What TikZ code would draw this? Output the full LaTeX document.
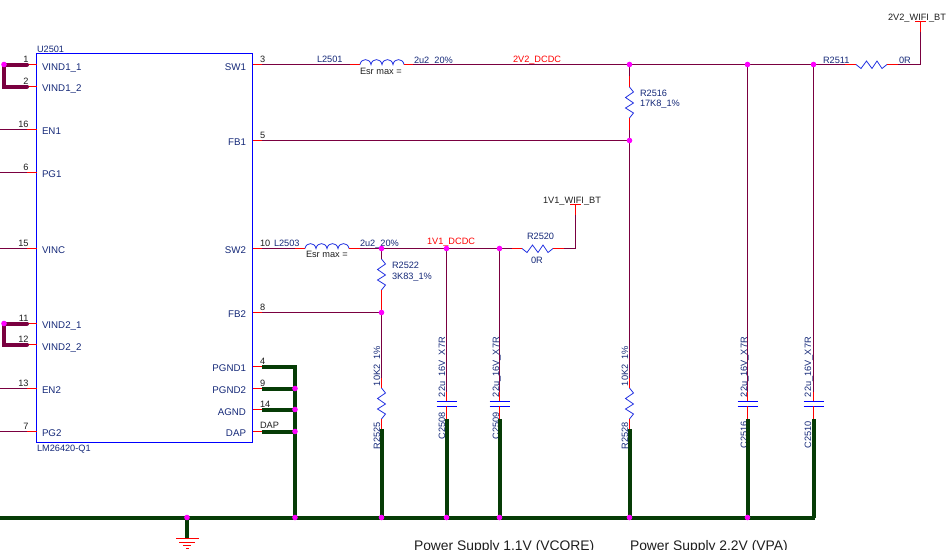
\documentclass[tikz,border=0pt]{standalone}
\usepackage{fontspec}
\setmainfont{Liberation Sans}
\definecolor{wine}{RGB}{122,0,64}
\definecolor{gnd}{RGB}{6,60,6}
\definecolor{navy}{RGB}{20,40,120}
\definecolor{ink}{RGB}{30,30,30}
\definecolor{comp}{RGB}{35,50,225}
\definecolor{jn}{RGB}{255,0,255}
\definecolor{pinred}{RGB}{255,0,0}
\definecolor{boxblue}{RGB}{0,0,255}
\newcommand{\smallf}{\fontsize{7.3pt}{9pt}\selectfont}
\newcommand{\valf}{\fontsize{6.9pt}{9pt}\selectfont}
\tikzset{
  lab/.style={inner sep=0pt,outer sep=0pt,anchor=base west,font=\valf,text=navy},
  pname/.style={lab,font=\smallf},
  pnamer/.style={pname,anchor=base east},
  labc/.style={lab,anchor=base},
  num/.style={lab,text=ink},
  numr/.style={lab,anchor=base east,text=ink},
  net/.style={lab,text=pinred},
  vlab/.style={lab,rotate=90},
  wire/.style={draw=wine,line width=0.8pt},
  buswine/.style={draw=wine,line width=3pt,line cap=round},
  busgnd/.style={draw=gnd,line width=3pt},
  pin/.style={draw=pinred,line width=0.8pt},
  body/.style={draw=comp,line width=0.6pt},
  plate/.style={draw=boxblue,line width=0.8pt},
  dot/.style={circle,fill=jn,inner sep=0pt,minimum size=4.2pt},
  hres/.pic={\draw[body] (0,0)--(5,4)--(10.5,-3.5)--(16,4)--(21,-3.5)--(26,4)--(31,0);},
  vres/.pic={\draw[body] (0,0)--(4,5)--(-4,10.5)--(4,16)--(-4,21)--(4,26)--(0,31);},
  coil/.pic={\draw[body] (0,0) .. controls (1,-6.5) and (10,-6.5) .. (11,0)
     .. controls (12,-6.5) and (21,-6.5) .. (22,0)
     .. controls (23,-6.5) and (32,-6.5) .. (33,0)
     .. controls (34,-6.5) and (43,-6.5) .. (44,0);},
  vcap/.pic={\draw[plate] (-10,0)--(10,0) (-10,5)--(10,5);}
}
\begin{document}
\begin{tikzpicture}[x=0.75pt,y=-0.75pt]
\useasboundingbox (0,0) rectangle (951,550);
% ---- texts (below the wires, as in the reference)
\node[lab] (tU) at (37,52) {U2501};
\node[lab] (tLM) at (37,451) {LM26420-Q1};
\foreach \id/\by/\n/\nb/\nm in {a/70/1/62/VIND1\_1,b/91.5/2/84/VIND1\_2,c/134/16/127/EN1,d/177/6/170/PG1,e/253/15/246/VINC,f/328/11/321.5/VIND2\_1,g/350/12/342/VIND2\_2,h/393/13/386/EN2,i/436/7/429/PG2}{
  \node[pname] (tn\id) at (42,\by) {\nm};
  \node[numr] (tp\id) at (28.5,\nb) {\n};
}
\foreach \id/\by/\n/\nb/\nm in {a/70/3/62/SW1,b/145/5/138/FB1,c/253/10/246/SW2,d/317/8/310/FB2,e/371/4/364/PGND1,f/393/9/386/PGND2,g/415/14/407/AGND,h/436/DAP/428/DAP}{
  \node[pnamer] (rn\id) at (246,\by) {\nm};
  \node[num] (rp\id) at (260,\nb) {\n};
}
\node[lab] (tL1) at (317,62) {L2501};
\node[num] (tE1) at (360,74) {Esr max =};
\node[lab] (tV1) at (414,63) {2u2\_20\%};
\node[net] (tN1) at (513,62) {2V2\_DCDC};
\node[lab] (tL2) at (274,246) {L2503};
\node[num] (tE2) at (306,257) {Esr max =};
\node[lab] (tV2) at (360,246) {2u2\_20\%};
\node[net] (tN2) at (427,244) {1V1\_DCDC};
\node[lab] (tR22) at (392,268) {R2522};
\node[lab] (tV22) at (392,279) {3K83\_1\%};
\node[lab] (tR20) at (527,239) {R2520};
\node[labc] (tV20) at (537,263) {0R};
\node[lab] (tR16) at (640,96) {R2516};
\node[lab] (tV16) at (640,106.5) {17K8\_1\%};
\node[lab] (tR11) at (823,63) {R2511};
\node[lab] (tV11) at (899,63) {0R};
\node[labc,text=ink] (tW2) at (917,20) {2V2\_WIFI\_BT};
\node[labc,text=ink] (tW1) at (572,203) {1V1\_WIFI\_BT};
\node[vlab] (tR25) at (380,449) {R2525};
\node[vlab] (tV25) at (380,386) {10K2\_1\%};
\node[vlab] (tR28) at (628,449) {R2528};
\node[vlab] (tV28) at (628,386) {10K2\_1\%};
\node[vlab] (tC08) at (445,439) {C2508};
\node[vlab] (tC09) at (499,439) {C2509};
\node[vlab] (tC16) at (747,448) {C2516};
\node[vlab] (tC10) at (811,448) {C2510};
\foreach \id/\x in {a/445,b/499,c/747,d/811}{
  \node[vlab] (tc\id) at (\x,397) {22u\_16V\_X7R};
}
\node[lab,font=\fontsize{10.4pt}{12pt}\selectfont,text=ink] (tP1) at (414,550.5) {Power Supply 1.1V (VCORE)};
\node[lab,font=\fontsize{10.4pt}{12pt}\selectfont,text=ink] (tP2) at (630,550.5) {Power Supply 2.2V (VPA)};
% ---- package
\node[draw=boxblue,line width=0.8pt,inner sep=0pt,outer sep=0pt,minimum width=162pt,minimum height=291.75pt] (U) at (144.5,248) {};
% ---- left pins
\foreach \id/\y in {a/64.5,b/86.5,c/129.5,d/172.5,e/248.5,f/323.5,g/344.5,h/388.5,i/431.5}{
  \coordinate (Lp\id) at (36.5,\y);
  \coordinate (Lq\id) at (27,\y);
  \coordinate (Le\id) at (0,\y);
  \draw[pin] (Lp\id)--(Lq\id);
}
\foreach \id in {c,d,e,h,i}{\draw[wire] (Lq\id)--(Le\id);}
\coordinate (Ja) at (4,64.5);
\coordinate (Jf) at (4,323.5);
\draw[buswine] (Lqa)--(Ja)--(4,86.5)--(Lqb);
\draw[buswine] (Lqf)--(Jf)--(4,344.5)--(Lqg);
% ---- junctions
\coordinate (J1) at (629.5,64.5);
\coordinate (J2) at (747.5,64.5);
\coordinate (J3) at (813.5,64.5);
\coordinate (J4) at (629.5,140.5);
\coordinate (J5) at (381.5,248.5);
\coordinate (J6) at (446.5,248.5);
\coordinate (J7) at (499.5,248.5);
\coordinate (J8) at (381.5,312.5);
\coordinate (G0) at (187,517.5);
\coordinate (G1) at (295,517.5);
\coordinate (G2) at (381.5,517.5);
\coordinate (G3) at (446.5,517.5);
\coordinate (G4) at (499.5,517.5);
\coordinate (G5) at (629.5,517.5);
\coordinate (G6) at (747.5,517.5);
\coordinate (G7) at (813.5,517.5);
\coordinate (G8) at (0,517.5);
% ---- right pins
\foreach \id/\y in {a/64.5,b/140.5,c/248.5,d/312.5,e/366.5,f/388.5,g/409.5,h/431.5}{
  \coordinate (Rp\id) at (252.5,\y);
  \coordinate (Rq\id) at (262,\y);
  \draw[pin] (Rp\id)--(Rq\id);
}
% ---- SW1 rail
\coordinate (L1a) at (360,64.5);
\coordinate (L1b) at (404,64.5);
\draw[wire] (Rqa)--(350,64.5);
\draw[pin] (350,64.5)--(L1a);
\draw pic at (L1a) {coil};
\draw[pin] (L1b)--(413,64.5);
\draw[wire] (413,64.5)--(J1)--(J2)--(J3)--(845,64.5);
\draw[pin] (845,64.5)--(856,64.5);
\draw pic at (856,64.5) {hres};
\draw[pin] (887,64.5)--(898,64.5);
\draw[wire] (898,64.5)--(920.5,64.5)--(920.5,32);
\draw[pin] (920.5,32)--(920.5,21.5);
\draw[pin] (915,21.5)--(926,21.5);
% ---- FB1 and R2516
\draw[wire] (Rqb)--(J4);
\draw[wire] (J1)--(629.5,76);
\draw[pin] (629.5,76)--(629.5,87);
\draw pic at (629.5,87) {vres};
\draw[pin] (629.5,118)--(629.5,130);
\draw[wire] (629.5,130)--(J4);
% ---- SW2 rail
\draw[wire] (Rqc)--(295,248.5);
\draw[pin] (295,248.5)--(305,248.5);
\draw pic at (305,248.5) {coil};
\draw[pin] (349,248.5)--(360,248.5);
\draw[wire] (360,248.5)--(J5)--(J6)--(J7)--(512,248.5);
\draw[pin] (512,248.5)--(522,248.5);
\draw pic at (522,248.5) {hres};
\draw[pin] (553,248.5)--(564,248.5);
\draw[wire] (564,248.5)--(575.5,248.5)--(575.5,215);
\draw[pin] (575.5,215)--(575.5,204.5);
\draw[pin] (570,204.5)--(581,204.5);
% ---- R2522, FB2
\draw[wire] (J5)--(381.5,259);
\draw pic at (381.5,259) {vres};
\draw[pin] (381.5,290)--(J8);
\draw[wire] (Rqd)--(J8);
% ---- lower resistors
\foreach \x/\y in {381.5/312.5,629.5/140.5}{
  \draw[wire] (\x,\y)--(\x,378);
  \draw[pin] (\x,378)--(\x,388);
  \draw pic at (\x,388) {vres};
  \draw[pin] (\x,419)--(\x,429);
}
\draw[busgnd] (381.5,429)--(G2);
\draw[busgnd] (629.5,429)--(G5);
% ---- capacitors
\foreach \x/\yj/\g in {446.5/248.5/G3,499.5/248.5/G4,747.5/64.5/G6,813.5/64.5/G7}{
  \draw[wire] (\x,\yj)--(\x,392);
  \draw[pin] (\x,392)--(\x,401);
  \draw pic at (\x,401.5) {vcap};
  \draw[pin] (\x,406)--(\x,419);
  \draw[busgnd] (\x,419)--(\g);
}
% ---- ground
\draw[busgnd,line join=miter] (Rqe)--(295,366.5)--(G1);
\draw[busgnd] (Rqf)--(295,388.5);
\draw[busgnd] (Rqg)--(295,409.5);
\draw[busgnd] (Rqh)--(295,431.5);
\draw[busgnd] (G8)--(815,517.5);
\draw[busgnd] (G0)--(187,539);
\draw[pin] (176,538.5)--(199,538.5) (179,542.5)--(195,542.5) (183,545.5)--(191,545.5) (186,548.5)--(189,548.5);
% ---- dots
\foreach \c in {Ja,Jf,J1,J2,J3,J4,J5,J6,J7,J8,G0,G1,G2,G3,G4,G5,G6}{\node[dot] at (\c) {};}
\foreach \y in {388.5,409.5,431.5}{\node[dot] at (295,\y) {};}
\end{tikzpicture}
\end{document}
